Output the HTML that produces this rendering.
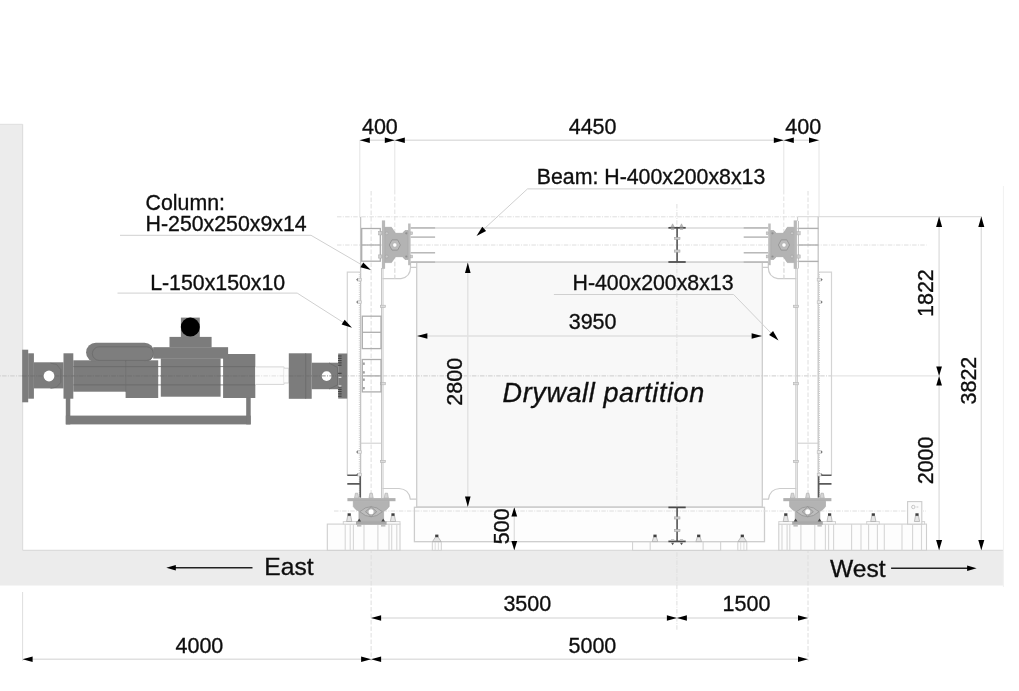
<!DOCTYPE html>
<html><head><meta charset="utf-8"><title>Test setup</title>
<style>
html,body{margin:0;padding:0;background:#fff;}
body{width:1019px;height:691px;overflow:hidden;font-family:"Liberation Sans",sans-serif;}
svg{display:block;}
svg text{font-family:"Liberation Sans",sans-serif;fill:#111;stroke:#111;stroke-width:0.35px;}
</style></head>
<body>
<svg width="1019" height="691" viewBox="0 0 1019 691">
<defs><filter id="soft" x="-2%" y="-2%" width="104%" height="104%"><feGaussianBlur stdDeviation="0.45"/></filter></defs>
<rect width="1019" height="691" fill="#fff"/>
<g filter="url(#soft)">
<path d="M-6 124.3 H22.6 V550.3 H1003 V585.5 H-6 Z" fill="#ececec"/>
<line x1="-6" y1="124.3" x2="22.6" y2="124.3" stroke="#e0e0e0" stroke-width="1" />
<line x1="22.6" y1="124.3" x2="22.6" y2="550.3" stroke="#dedede" stroke-width="1.2" />
<line x1="22.6" y1="550.3" x2="1003" y2="550.3" stroke="#dcdcdc" stroke-width="1.2" />
<line x1="1003.4" y1="186" x2="1003.4" y2="587" stroke="#f1f1f1" stroke-width="1" />
<rect x="416.7" y="262.3" width="345.6" height="244.7" fill="#f8f8f8" stroke="#cdcdcd" stroke-width="1.3" />
<rect x="414.4" y="507.3" width="350.1" height="34.4" fill="#fdfdfd" stroke="#cdcdcd" stroke-width="1.3" />
<line x1="410.6" y1="227.9" x2="768.2" y2="227.9" stroke="#dadada" stroke-width="1.5" />
<line x1="410.6" y1="262.1" x2="768.2" y2="262.1" stroke="#d6d6d6" stroke-width="1.6" />
<line x1="337" y1="216.8" x2="797.6" y2="216.8" stroke="#dedede" stroke-width="1" stroke-dasharray="4.5 1.3 1 1.3"/>
<line x1="797.6" y1="216.6" x2="981.6" y2="216.6" stroke="#dedede" stroke-width="1.1" />
<line x1="337" y1="245" x2="926.5" y2="245" stroke="#dedede" stroke-width="1" stroke-dasharray="4.5 1.3 1 1.3"/>
<line x1="-6" y1="375.9" x2="832" y2="375.9" stroke="#cccccc" stroke-width="1" stroke-dasharray="4.5 1.3 1 1.3"/>
<line x1="832" y1="375.9" x2="939" y2="375.9" stroke="#dedede" stroke-width="1" />
<line x1="334" y1="511" x2="926" y2="511" stroke="#dedede" stroke-width="1" stroke-dasharray="4.5 1.3 1 1.3"/>
<line x1="371.1" y1="191" x2="371.1" y2="661" stroke="#dedede" stroke-width="1" stroke-dasharray="4.5 2"/>
<line x1="808" y1="191" x2="808" y2="661" stroke="#dedede" stroke-width="1" stroke-dasharray="4.5 2"/>
<line x1="676.9" y1="204" x2="676.9" y2="630" stroke="#dedede" stroke-width="1" stroke-dasharray="4.5 1.3 1 1.3"/>
<line x1="394.8" y1="140" x2="394.8" y2="190" stroke="#e4e4e4" stroke-width="1" />
<line x1="394.8" y1="190" x2="394.8" y2="278" stroke="#e2e2e2" stroke-width="1" stroke-dasharray="4.5 2"/>
<line x1="783.8" y1="140" x2="783.8" y2="190" stroke="#e4e4e4" stroke-width="1" />
<line x1="783.8" y1="190" x2="783.8" y2="278" stroke="#e2e2e2" stroke-width="1" stroke-dasharray="4.5 2"/>
<line x1="359.8" y1="140" x2="359.8" y2="216" stroke="#e4e4e4" stroke-width="1" />
<line x1="819" y1="140" x2="819" y2="216" stroke="#e4e4e4" stroke-width="1" />
<line x1="360.6" y1="216.8" x2="360.6" y2="498" stroke="#c4c4c4" stroke-width="1.3" />
<line x1="359.3" y1="272" x2="359.3" y2="498" stroke="#c9c9c9" stroke-width="1" stroke-dasharray="1 1.2"/>
<line x1="381.6" y1="268" x2="381.6" y2="498" stroke="#c6c6c6" stroke-width="1.2" />
<line x1="383.1" y1="268" x2="383.1" y2="498" stroke="#d0d0d0" stroke-width="1.0" />
<path d="M360.5 272.2 H347.3 V475.3" fill="none" stroke="#d4d4d4" stroke-width="1.2" />
<line x1="360.6" y1="443.2" x2="381.6" y2="443.2" stroke="#cccccc" stroke-width="1" />
<path d="M347.3 475.3 H359.5 M347.3 483.9 H360.2 M360.2 476 V497.5" fill="none" stroke="#5a5a5a" stroke-width="1.6" />
<rect x="357.6" y="278.4" width="4.0" height="2.6" fill="#e9e9e9" stroke="#bdbdbd" stroke-width="0.6" />
<polygon points="356.0,279.7 357.8,278.3 357.8,281.1" fill="#777" stroke="none" stroke-width="1"/>
<rect x="357.6" y="300.8" width="4.0" height="2.6" fill="#e9e9e9" stroke="#bdbdbd" stroke-width="0.6" />
<polygon points="356.0,302.1 357.8,300.7 357.8,303.5" fill="#777" stroke="none" stroke-width="1"/>
<rect x="357.6" y="450.7" width="4.0" height="2.6" fill="#e9e9e9" stroke="#bdbdbd" stroke-width="0.6" />
<polygon points="356.0,452 357.8,450.6 357.8,453.4" fill="#777" stroke="none" stroke-width="1"/>
<rect x="357.6" y="473.4" width="4.0" height="2.6" fill="#e9e9e9" stroke="#bdbdbd" stroke-width="0.6" />
<polygon points="356.0,474.7 357.8,473.3 357.8,476.1" fill="#777" stroke="none" stroke-width="1"/>
<rect x="380.3" y="305.2" width="5.0" height="2.4" fill="#dcdcdc" stroke="#b5b5b5" stroke-width="0.6" />
<rect x="380.3" y="382.4" width="5.0" height="2.4" fill="#dcdcdc" stroke="#b5b5b5" stroke-width="0.6" />
<rect x="380.3" y="460.3" width="5.0" height="2.4" fill="#dcdcdc" stroke="#b5b5b5" stroke-width="0.6" />
<path d="M382.5 278.6 H401 Q410.5 277 410.5 267.3 H416.6 M410.5 262.2 V267.3" fill="none" stroke="#cccccc" stroke-width="1.2" />
<path d="M382.5 488.5 H399 Q409 489 410.3 499.2 H416.6" fill="none" stroke="#cccccc" stroke-width="1.2" />
<line x1="394.8" y1="262" x2="394.8" y2="278.6" stroke="#dedede" stroke-width="1" stroke-dasharray="4.5 2"/>
<line x1="818.2" y1="216.8" x2="818.2" y2="498" stroke="#c4c4c4" stroke-width="1.3" />
<line x1="819.5" y1="272" x2="819.5" y2="498" stroke="#c9c9c9" stroke-width="1" stroke-dasharray="1 1.2"/>
<line x1="797.2" y1="268" x2="797.2" y2="498" stroke="#c6c6c6" stroke-width="1.2" />
<line x1="795.7" y1="268" x2="795.7" y2="498" stroke="#d0d0d0" stroke-width="1.0" />
<path d="M818.3 272.2 H831.5 V475.3" fill="none" stroke="#d4d4d4" stroke-width="1.2" />
<line x1="818.2" y1="443.2" x2="797.2" y2="443.2" stroke="#cccccc" stroke-width="1" />
<path d="M831.5 475.3 H819.3 M831.5 483.9 H818.6 M818.6 476 V497.5" fill="none" stroke="#5a5a5a" stroke-width="1.6" />
<rect x="817.2" y="278.4" width="4.0" height="2.6" fill="#e9e9e9" stroke="#bdbdbd" stroke-width="0.6" />
<polygon points="822.8,279.7 821.0,278.3 821.0,281.1" fill="#777" stroke="none" stroke-width="1"/>
<rect x="817.2" y="300.8" width="4.0" height="2.6" fill="#e9e9e9" stroke="#bdbdbd" stroke-width="0.6" />
<polygon points="822.8,302.1 821.0,300.7 821.0,303.5" fill="#777" stroke="none" stroke-width="1"/>
<rect x="817.2" y="450.7" width="4.0" height="2.6" fill="#e9e9e9" stroke="#bdbdbd" stroke-width="0.6" />
<polygon points="822.8,452 821.0,450.6 821.0,453.4" fill="#777" stroke="none" stroke-width="1"/>
<rect x="817.2" y="473.4" width="4.0" height="2.6" fill="#e9e9e9" stroke="#bdbdbd" stroke-width="0.6" />
<polygon points="822.8,474.7 821.0,473.3 821.0,476.1" fill="#777" stroke="none" stroke-width="1"/>
<rect x="793.5" y="305.2" width="5.0" height="2.4" fill="#dcdcdc" stroke="#b5b5b5" stroke-width="0.6" />
<rect x="793.5" y="382.4" width="5.0" height="2.4" fill="#dcdcdc" stroke="#b5b5b5" stroke-width="0.6" />
<rect x="793.5" y="460.3" width="5.0" height="2.4" fill="#dcdcdc" stroke="#b5b5b5" stroke-width="0.6" />
<path d="M796.3 278.6 H777.8 Q768.3 277 768.3 267.3 H762.2 M768.3 262.2 V267.3" fill="none" stroke="#cccccc" stroke-width="1.2" />
<path d="M796.3 488.5 H779.8 Q769.8 489 768.5 499.2 H762.2" fill="none" stroke="#cccccc" stroke-width="1.2" />
<line x1="784.0" y1="262" x2="784.0" y2="278.6" stroke="#dedede" stroke-width="1" stroke-dasharray="4.5 2"/>
<rect x="361.7" y="228.5" width="18.6" height="32.7" fill="none" stroke="#adadad" stroke-width="1.3" />
<line x1="361.7" y1="245" x2="380.3" y2="245" stroke="#adadad" stroke-width="1.3" />
<rect x="362.3" y="316.2" width="18.7" height="32.4" fill="none" stroke="#adadad" stroke-width="1.3" />
<line x1="362.3" y1="332.3" x2="381" y2="332.3" stroke="#adadad" stroke-width="1.3" />
<rect x="362.3" y="359.5" width="18.7" height="32.4" fill="none" stroke="#adadad" stroke-width="1.3" />
<line x1="362.3" y1="375.9" x2="381" y2="375.9" stroke="#adadad" stroke-width="1.3" />
<rect x="362.9" y="362.5" width="1.9" height="2.4" fill="#a0a0a0" stroke="none" stroke-width="1" />
<rect x="362.9" y="371.2" width="1.9" height="2.4" fill="#a0a0a0" stroke="none" stroke-width="1" />
<rect x="362.9" y="378.5" width="1.9" height="2.4" fill="#a0a0a0" stroke="none" stroke-width="1" />
<rect x="362.9" y="387.0" width="1.9" height="2.4" fill="#a0a0a0" stroke="none" stroke-width="1" />
<line x1="797.6" y1="228.4" x2="818.4" y2="228.4" stroke="#b0b0b0" stroke-width="1.4" />
<line x1="797.6" y1="245" x2="818.4" y2="245" stroke="#b0b0b0" stroke-width="1.4" />
<line x1="797.6" y1="261.4" x2="818.4" y2="261.4" stroke="#b0b0b0" stroke-width="1.4" />
<line x1="798.4" y1="221" x2="798.4" y2="268.5" stroke="#bcbcbc" stroke-width="1" />
<line x1="797.6" y1="216.8" x2="797.6" y2="221" stroke="#cccccc" stroke-width="1" />
<rect x="327.3" y="524.1" width="72.7" height="26.2" fill="#fdfdfd" stroke="#cfcfcf" stroke-width="1.1" />
<rect x="343.3" y="521.6" width="56.7" height="2.5" fill="#fdfdfd" stroke="#d2d2d2" stroke-width="1" />
<line x1="345.2" y1="524.1" x2="345.2" y2="550.3" stroke="#d6d6d6" stroke-width="1.1" />
<line x1="350.2" y1="524.1" x2="350.2" y2="550.3" stroke="#d6d6d6" stroke-width="1.1" />
<line x1="353.4" y1="524.1" x2="353.4" y2="550.3" stroke="#d6d6d6" stroke-width="1.1" />
<line x1="364" y1="524.1" x2="364" y2="550.3" stroke="#d6d6d6" stroke-width="1.1" />
<line x1="377.9" y1="524.1" x2="377.9" y2="550.3" stroke="#d6d6d6" stroke-width="1.1" />
<line x1="389" y1="524.1" x2="389" y2="550.3" stroke="#d6d6d6" stroke-width="1.1" />
<line x1="391.7" y1="524.1" x2="391.7" y2="550.3" stroke="#d6d6d6" stroke-width="1.1" />
<line x1="396.8" y1="524.1" x2="396.8" y2="550.3" stroke="#d6d6d6" stroke-width="1.1" />
<rect x="778.8" y="524.1" width="147.7" height="26.2" fill="#fdfdfd" stroke="#cfcfcf" stroke-width="1.1" />
<rect x="778.8" y="521.6" width="56.7" height="2.5" fill="#fdfdfd" stroke="#d2d2d2" stroke-width="1" />
<line x1="833.6" y1="524.1" x2="833.6" y2="550.3" stroke="#d6d6d6" stroke-width="1.1" />
<line x1="828.6" y1="524.1" x2="828.6" y2="550.3" stroke="#d6d6d6" stroke-width="1.1" />
<line x1="825.4" y1="524.1" x2="825.4" y2="550.3" stroke="#d6d6d6" stroke-width="1.1" />
<line x1="814.8" y1="524.1" x2="814.8" y2="550.3" stroke="#d6d6d6" stroke-width="1.1" />
<line x1="800.9" y1="524.1" x2="800.9" y2="550.3" stroke="#d6d6d6" stroke-width="1.1" />
<line x1="789.8" y1="524.1" x2="789.8" y2="550.3" stroke="#d6d6d6" stroke-width="1.1" />
<line x1="787.1" y1="524.1" x2="787.1" y2="550.3" stroke="#d6d6d6" stroke-width="1.1" />
<line x1="782.0" y1="524.1" x2="782.0" y2="550.3" stroke="#d6d6d6" stroke-width="1.1" />
<line x1="851.6" y1="524.1" x2="851.6" y2="550.3" stroke="#d6d6d6" stroke-width="1.1" />
<line x1="861" y1="524.1" x2="861" y2="550.3" stroke="#d6d6d6" stroke-width="1.1" />
<line x1="868.6" y1="524.1" x2="868.6" y2="550.3" stroke="#d6d6d6" stroke-width="1.1" />
<line x1="877.4" y1="524.1" x2="877.4" y2="550.3" stroke="#d6d6d6" stroke-width="1.1" />
<line x1="884.3" y1="524.1" x2="884.3" y2="550.3" stroke="#d6d6d6" stroke-width="1.1" />
<line x1="902" y1="524.1" x2="902" y2="550.3" stroke="#d6d6d6" stroke-width="1.1" />
<line x1="912.6" y1="524.1" x2="912.6" y2="550.3" stroke="#d6d6d6" stroke-width="1.1" />
<line x1="921.5" y1="524.1" x2="921.5" y2="550.3" stroke="#d6d6d6" stroke-width="1.1" />
<rect x="866.7" y="521.6" width="12.6" height="2.5" fill="#fdfdfd" stroke="#d2d2d2" stroke-width="1" />
<rect x="910.8" y="521.6" width="13.8" height="2.5" fill="#fdfdfd" stroke="#d2d2d2" stroke-width="1" />
<rect x="907.6" y="501.6" width="14.2" height="22.5" fill="#fbfbfb" stroke="#cccccc" stroke-width="1.1" />
<circle cx="913.3" cy="507" r="1.7" fill="none" stroke="#b0b0b0" stroke-width="0.7"/>
<line x1="916.5" y1="507" x2="918.3" y2="507" stroke="#bdbdbd" stroke-width="0.8" />
<polygon points="870.7,521.5 871.8,515.7 874.8,515.7 875.9,521.5" fill="#e6e6e6" stroke="#a8a8a8" stroke-width="0.7"/>
<rect x="871.7" y="513.3" width="3.2" height="2.5" fill="#3f3f3f" stroke="none" stroke-width="1" />
<polygon points="914.4,521.5 915.5,515.7 918.5,515.7 919.6,521.5" fill="#e6e6e6" stroke="#a8a8a8" stroke-width="0.7"/>
<rect x="915.4" y="513.3" width="3.2" height="2.5" fill="#3f3f3f" stroke="none" stroke-width="1" />
<line x1="410.6" y1="237.1" x2="435.1" y2="237.1" stroke="#b2b2b2" stroke-width="1.4" />
<line x1="410.6" y1="252.8" x2="435.1" y2="252.8" stroke="#b2b2b2" stroke-width="1.4" />
<line x1="410.6" y1="227.9" x2="435.1" y2="227.9" stroke="#b8b8b8" stroke-width="1.5" />
<line x1="410.6" y1="262.1" x2="435.1" y2="262.1" stroke="#b8b8b8" stroke-width="1.5" />
<rect x="381.9" y="220.4" width="3.2" height="48.4" fill="#b9b9b9" stroke="none" stroke-width="1" />
<rect x="408.1" y="223.5" width="2.5" height="41.7" fill="#bdbdbd" stroke="none" stroke-width="1" />
<polygon points="385.1,227.3 391.5,227.3 395.5,233.3 402.5,233.3 405,230.5 408.1,230.5 408.1,259.5 405,259.5 402.5,256.7 395.5,256.7 391.5,262.6 385.1,262.6" fill="#b3b3b3" stroke="#a2a2a2" stroke-width="0.6"/>
<polygon points="389.2,245 392.0,239.9 397.6,239.9 400.4,245 397.6,250.1 392.0,250.1" fill="#bcbcbc" stroke="#8e8e8e" stroke-width="0.8"/>
<circle cx="394.8" cy="245" r="2.2" fill="#fff" stroke="#a5a5a5" stroke-width="0.6"/>
<circle cx="386.8" cy="233.3" r="1.5" fill="#c9c9c9" stroke="#9c9c9c" stroke-width="0.5"/>
<rect x="378.6" y="231.7" width="3.3" height="3.2" fill="#cfcfcf" stroke="#aaa" stroke-width="0.5" />
<rect x="410.6" y="231.9" width="2.0" height="2.8" fill="#cfcfcf" stroke="#aaa" stroke-width="0.5" />
<circle cx="406.3" cy="233.3" r="1.1" fill="#8f8f8f"/>
<circle cx="386.8" cy="256.5" r="1.5" fill="#c9c9c9" stroke="#9c9c9c" stroke-width="0.5"/>
<rect x="378.6" y="254.9" width="3.3" height="3.2" fill="#cfcfcf" stroke="#aaa" stroke-width="0.5" />
<rect x="410.6" y="255.1" width="2.0" height="2.8" fill="#cfcfcf" stroke="#aaa" stroke-width="0.5" />
<circle cx="406.3" cy="256.5" r="1.1" fill="#8f8f8f"/>
<line x1="768.2" y1="237.1" x2="743.7" y2="237.1" stroke="#b2b2b2" stroke-width="1.4" />
<line x1="768.2" y1="252.8" x2="743.7" y2="252.8" stroke="#b2b2b2" stroke-width="1.4" />
<line x1="768.2" y1="227.9" x2="743.7" y2="227.9" stroke="#b8b8b8" stroke-width="1.5" />
<line x1="768.2" y1="262.1" x2="743.7" y2="262.1" stroke="#b8b8b8" stroke-width="1.5" />
<rect x="793.7" y="220.4" width="3.2" height="48.4" fill="#b9b9b9" stroke="none" stroke-width="1" />
<rect x="768.2" y="223.5" width="2.5" height="41.7" fill="#bdbdbd" stroke="none" stroke-width="1" />
<polygon points="793.7,227.3 787.3,227.3 783.3,233.3 776.3,233.3 773.8,230.5 770.7,230.5 770.7,259.5 773.8,259.5 776.3,256.7 783.3,256.7 787.3,262.6 793.7,262.6" fill="#b3b3b3" stroke="#a2a2a2" stroke-width="0.6"/>
<polygon points="778.4,245 781.2,239.9 786.8,239.9 789.6,245 786.8,250.1 781.2,250.1" fill="#bcbcbc" stroke="#8e8e8e" stroke-width="0.8"/>
<circle cx="784.0" cy="245" r="2.2" fill="#fff" stroke="#a5a5a5" stroke-width="0.6"/>
<circle cx="792.0" cy="233.3" r="1.5" fill="#c9c9c9" stroke="#9c9c9c" stroke-width="0.5"/>
<rect x="796.9" y="231.7" width="3.3" height="3.2" fill="#cfcfcf" stroke="#aaa" stroke-width="0.5" />
<rect x="766.2" y="231.9" width="2.0" height="2.8" fill="#cfcfcf" stroke="#aaa" stroke-width="0.5" />
<circle cx="772.5" cy="233.3" r="1.1" fill="#8f8f8f"/>
<circle cx="792.0" cy="256.5" r="1.5" fill="#c9c9c9" stroke="#9c9c9c" stroke-width="0.5"/>
<rect x="796.9" y="254.9" width="3.3" height="3.2" fill="#cfcfcf" stroke="#aaa" stroke-width="0.5" />
<rect x="766.2" y="255.1" width="2.0" height="2.8" fill="#cfcfcf" stroke="#aaa" stroke-width="0.5" />
<circle cx="772.5" cy="256.5" r="1.1" fill="#8f8f8f"/>
<rect x="347.4" y="498.1" width="48.1" height="3.1" fill="#b1b1b1" stroke="none" stroke-width="1" />
<polygon points="353.3,501.2 389.2,501.2 389.2,506.6 386.6,509.6 383.6,511.2 383.6,521.4 358.9,521.4 358.9,511.2 355.9,509.6 353.3,506.6" fill="#b3b3b3" stroke="#a5a5a5" stroke-width="0.6"/>
<rect x="356.0" y="521.3" width="30.6" height="3.4" fill="#a9a9a9" stroke="none" stroke-width="1" />
<path d="M359.8 511.7 Q371.1 501.5 382.40000000000003 511.7 Q371.1 521.9 359.8 511.7 Z" fill="#bdbdbd" stroke="#939393" stroke-width="0.8" />
<polygon points="365.5,511.7 371.1,506.8 376.7,511.7 371.1,516.6" fill="#b6b6b6" stroke="#8c8c8c" stroke-width="0.7"/>
<circle cx="371.1" cy="511.7" r="2.5" fill="#fff"/>
<polygon points="354.5,498.1 355.4,493.2 357.8,493.2 358.7,498.1" fill="#d5d5d5" stroke="#a9a9a9" stroke-width="0.6"/>
<polygon points="369.0,498.1 369.9,493.2 372.3,493.2 373.2,498.1" fill="#d5d5d5" stroke="#a9a9a9" stroke-width="0.6"/>
<polygon points="384.2,498.1 385.1,493.2 387.5,493.2 388.4,498.1" fill="#d5d5d5" stroke="#a9a9a9" stroke-width="0.6"/>
<polygon points="357.3,521.5 359.2,518.6 361.1,521.5" fill="#444" stroke="none" stroke-width="1"/>
<rect x="357.0" y="525" width="4.4" height="1.6" fill="#bdbdbd" stroke="none" stroke-width="1" />
<polygon points="381.3,521.5 383.2,518.6 385.1,521.5" fill="#444" stroke="none" stroke-width="1"/>
<rect x="381.0" y="525" width="4.4" height="1.6" fill="#bdbdbd" stroke="none" stroke-width="1" />
<polygon points="346.6,521.5 347.7,515.7 350.7,515.7 351.8,521.5" fill="#e6e6e6" stroke="#a8a8a8" stroke-width="0.7"/>
<rect x="347.6" y="513.3" width="3.2" height="2.5" fill="#3f3f3f" stroke="none" stroke-width="1" />
<polygon points="390.4,521.5 391.5,515.7 394.5,515.7 395.6,521.5" fill="#e6e6e6" stroke="#a8a8a8" stroke-width="0.7"/>
<rect x="391.4" y="513.3" width="3.2" height="2.5" fill="#3f3f3f" stroke="none" stroke-width="1" />
<rect x="783.3" y="498.1" width="48.1" height="3.1" fill="#b1b1b1" stroke="none" stroke-width="1" />
<polygon points="825.5,501.2 789.6,501.2 789.6,506.6 792.2,509.6 795.2,511.2 795.2,521.4 819.9,521.4 819.9,511.2 822.9,509.6 825.5,506.6" fill="#b3b3b3" stroke="#a5a5a5" stroke-width="0.6"/>
<rect x="792.2" y="521.3" width="30.6" height="3.4" fill="#a9a9a9" stroke="none" stroke-width="1" />
<path d="M796.4000000000001 511.7 Q807.7 501.5 819.0 511.7 Q807.7 521.9 796.4000000000001 511.7 Z" fill="#bdbdbd" stroke="#939393" stroke-width="0.8" />
<polygon points="802.1,511.7 807.7,506.8 813.3,511.7 807.7,516.6" fill="#b6b6b6" stroke="#8c8c8c" stroke-width="0.7"/>
<circle cx="807.7" cy="511.7" r="2.5" fill="#fff"/>
<polygon points="820.1,498.1 821.0,493.2 823.4,493.2 824.3,498.1" fill="#d5d5d5" stroke="#a9a9a9" stroke-width="0.6"/>
<polygon points="805.6,498.1 806.5,493.2 808.9,493.2 809.8,498.1" fill="#d5d5d5" stroke="#a9a9a9" stroke-width="0.6"/>
<polygon points="790.4,498.1 791.3,493.2 793.7,493.2 794.6,498.1" fill="#d5d5d5" stroke="#a9a9a9" stroke-width="0.6"/>
<polygon points="817.7,521.5 819.6,518.6 821.5,521.5" fill="#444" stroke="none" stroke-width="1"/>
<rect x="817.4" y="525" width="4.4" height="1.6" fill="#bdbdbd" stroke="none" stroke-width="1" />
<polygon points="793.7,521.5 795.6,518.6 797.5,521.5" fill="#444" stroke="none" stroke-width="1"/>
<rect x="793.4" y="525" width="4.4" height="1.6" fill="#bdbdbd" stroke="none" stroke-width="1" />
<polygon points="827.0,521.5 828.1,515.7 831.1,515.7 832.2,521.5" fill="#e6e6e6" stroke="#a8a8a8" stroke-width="0.7"/>
<rect x="828.0" y="513.3" width="3.2" height="2.5" fill="#3f3f3f" stroke="none" stroke-width="1" />
<polygon points="783.2,521.5 784.3,515.7 787.3,515.7 788.4,521.5" fill="#e6e6e6" stroke="#a8a8a8" stroke-width="0.7"/>
<rect x="784.2" y="513.3" width="3.2" height="2.5" fill="#3f3f3f" stroke="none" stroke-width="1" />
<rect x="632.6" y="541.9" width="88.1" height="8.4" fill="#fdfdfd" stroke="#cfcfcf" stroke-width="1" />
<line x1="650.2" y1="541.9" x2="650.2" y2="550.3" stroke="#cfcfcf" stroke-width="1" />
<line x1="703.1" y1="541.9" x2="703.1" y2="550.3" stroke="#cfcfcf" stroke-width="1" />
<rect x="432.3" y="541.9" width="9.0" height="8.4" fill="#fdfdfd" stroke="#d0d0d0" stroke-width="1" />
<line x1="435.2" y1="541.9" x2="435.2" y2="550.3" stroke="#d6d6d6" stroke-width="0.8" />
<line x1="438.40000000000003" y1="541.9" x2="438.40000000000003" y2="550.3" stroke="#d6d6d6" stroke-width="0.8" />
<rect x="737.8" y="541.9" width="9.0" height="8.4" fill="#fdfdfd" stroke="#d0d0d0" stroke-width="1" />
<line x1="740.6999999999999" y1="541.9" x2="740.6999999999999" y2="550.3" stroke="#d6d6d6" stroke-width="0.8" />
<line x1="743.9" y1="541.9" x2="743.9" y2="550.3" stroke="#d6d6d6" stroke-width="0.8" />
<polygon points="432.5,541.6 435.5,537.0 438.1,537.0 441.1,541.6" fill="#e6e6e6" stroke="#a8a8a8" stroke-width="0.7"/>
<rect x="435.2" y="534.6" width="3.2" height="2.5" fill="#3f3f3f" stroke="none" stroke-width="1" />
<polygon points="738.0,541.6 741.0,537.0 743.6,537.0 746.6,541.6" fill="#e6e6e6" stroke="#a8a8a8" stroke-width="0.7"/>
<rect x="740.7" y="534.6" width="3.2" height="2.5" fill="#3f3f3f" stroke="none" stroke-width="1" />
<polygon points="652.2,541.6 653.6,537.0 656.4,537.0 657.8,541.6" fill="#e6e6e6" stroke="#a8a8a8" stroke-width="0.7"/>
<rect x="653.4" y="534.6" width="3.2" height="2.5" fill="#3f3f3f" stroke="none" stroke-width="1" />
<polygon points="695.9,541.6 697.3,537.0 700.1,537.0 701.5,541.6" fill="#e6e6e6" stroke="#a8a8a8" stroke-width="0.7"/>
<rect x="697.1" y="534.6" width="3.2" height="2.5" fill="#3f3f3f" stroke="none" stroke-width="1" />
<line x1="668.4" y1="227.8" x2="685.7" y2="227.8" stroke="#4a4a4a" stroke-width="1.7" />
<line x1="668.4" y1="262.0" x2="685.7" y2="262.0" stroke="#4a4a4a" stroke-width="1.7" />
<line x1="677.1" y1="227.8" x2="677.1" y2="262.0" stroke="#555" stroke-width="1.6" />
<rect x="674.3" y="237.3" width="5.7" height="2.2" fill="#d0d0d0" stroke="#9e9e9e" stroke-width="0.5" />
<rect x="674.3" y="249.96" width="5.7" height="2.2" fill="#d0d0d0" stroke="#9e9e9e" stroke-width="0.5" />
<polygon points="670.9,227.2 672.6,223.8 674.3,227.2" fill="#bbb" stroke="#999" stroke-width="0.5"/>
<rect x="671.0" y="228.6" width="3.2" height="1.4" fill="#c4c4c4" stroke="none" stroke-width="1" />
<polygon points="679.8,227.2 681.5,223.8 683.2,227.2" fill="#bbb" stroke="#999" stroke-width="0.5"/>
<rect x="679.9" y="228.6" width="3.2" height="1.4" fill="#c4c4c4" stroke="none" stroke-width="1" />
<line x1="668.4" y1="507.4" x2="685.7" y2="507.4" stroke="#4a4a4a" stroke-width="1.7" />
<line x1="668.4" y1="541.4" x2="685.7" y2="541.4" stroke="#4a4a4a" stroke-width="1.7" />
<line x1="677.1" y1="507.4" x2="677.1" y2="541.4" stroke="#555" stroke-width="1.6" />
<rect x="674.3" y="516.84" width="5.7" height="2.2" fill="#d0d0d0" stroke="#9e9e9e" stroke-width="0.5" />
<rect x="674.3" y="529.42" width="5.7" height="2.2" fill="#d0d0d0" stroke="#9e9e9e" stroke-width="0.5" />
<polygon points="671.1,542.7 674.1,542.7 672.6,545.2" fill="#555" stroke="none" stroke-width="1"/>
<rect x="671.0" y="539.0" width="3.2" height="1.5" fill="#c4c4c4" stroke="none" stroke-width="1" />
<polygon points="680.0,542.7 683.0,542.7 681.5,545.2" fill="#555" stroke="none" stroke-width="1"/>
<rect x="679.9" y="539.0" width="3.2" height="1.5" fill="#c4c4c4" stroke="none" stroke-width="1" />
<rect x="22.2" y="349.7" width="6.0" height="52.6" fill="#7b7b7b" stroke="none" stroke-width="1" />
<rect x="28.2" y="353.3" width="5.7" height="45.4" fill="#7b7b7b" stroke="none" stroke-width="1" />
<rect x="33.9" y="362.3" width="29.6" height="26.1" fill="#7b7b7b" stroke="none" stroke-width="1" />
<rect x="63.5" y="353.3" width="9.8" height="45.4" fill="#7b7b7b" stroke="none" stroke-width="1" />
<rect x="73.3" y="360.3" width="52.5" height="31.4" fill="#7b7b7b" stroke="none" stroke-width="1" />
<rect x="125.6" y="360.3" width="32.6" height="37.7" fill="#7b7b7b" stroke="none" stroke-width="1" />
<rect x="160.8" y="358.3" width="59.8" height="38.4" fill="#7b7b7b" stroke="none" stroke-width="1" />
<rect x="223.1" y="354" width="32.2" height="44" fill="#7b7b7b" stroke="none" stroke-width="1" />
<rect x="86.1" y="342.7" width="68" height="19.4" rx="9.7" fill="#7b7b7b"/>
<rect x="92.4" y="346.8" width="61" height="13.6" rx="6.8" fill="#7e7e7e" stroke="#6a6a6a" stroke-width="0.8"/>
<rect x="153.2" y="347.2" width="74.9" height="11.4" fill="#7b7b7b" stroke="none" stroke-width="1" />
<rect x="169.5" y="336.9" width="42.1" height="10.5" fill="#7b7b7b" stroke="none" stroke-width="1" />
<rect x="180.9" y="317.6" width="18.9" height="19.4" fill="#808080" stroke="none" stroke-width="1" />
<circle cx="190.3" cy="327.1" r="9.5" fill="#000"/>
<rect x="65.8" y="398" width="4.5" height="26.4" fill="#7b7b7b" stroke="none" stroke-width="1" />
<rect x="65.8" y="415.6" width="184.9" height="8.8" fill="#7b7b7b" stroke="none" stroke-width="1" />
<rect x="246.2" y="397.5" width="4.5" height="26.9" fill="#7b7b7b" stroke="none" stroke-width="1" />
<line x1="73.3" y1="366.6" x2="255.3" y2="366.6" stroke="#686868" stroke-width="0.8" />
<line x1="73.3" y1="384.9" x2="255.3" y2="384.9" stroke="#686868" stroke-width="0.8" />
<line x1="22.2" y1="375.9" x2="255.3" y2="375.9" stroke="#6e6e6e" stroke-width="0.8" stroke-dasharray="4.5 1.3 1 1.3"/>
<line x1="125.6" y1="360.3" x2="125.6" y2="391.7" stroke="#6c6c6c" stroke-width="0.7" />
<path d="M50.5 363.2 L56.5 364.4 L60.8 369.6 V382.4 L56.5 387.2 L50.5 388.3" fill="none" stroke="#6c6c6c" stroke-width="0.8" />
<circle cx="49.0" cy="376.0" r="5.4" fill="#fff"/>
<path d="M255.3 366.9 H284.1 V384.4 H255.3" fill="#fcfcfc" stroke="#d6d6d6" stroke-width="1" />
<path d="M284.1 368.2 H288.8 V383 H284.1" fill="#fcfcfc" stroke="#d6d6d6" stroke-width="1" />
<rect x="288.8" y="353.3" width="22.9" height="45.5" fill="#7b7b7b" stroke="none" stroke-width="1" />
<line x1="305.7" y1="353.3" x2="305.7" y2="398.8" stroke="#6a6a6a" stroke-width="0.8" />
<rect x="311.7" y="362.7" width="26.5" height="26.5" fill="#7b7b7b" stroke="none" stroke-width="1" />
<path d="M329 362.9 L337.5 367.5 V385 L329 389" fill="none" stroke="#6a6a6a" stroke-width="0.8" />
<circle cx="326.6" cy="376.1" r="4.9" fill="#fff"/>
<rect x="338.2" y="353.5" width="9.0" height="45.1" fill="#7b7b7b" stroke="none" stroke-width="1" />
<line x1="338.0" y1="356" x2="341.6" y2="356" stroke="#3d3d3d" stroke-width="1" />
<line x1="338.0" y1="358.3" x2="341.6" y2="358.3" stroke="#3d3d3d" stroke-width="1" />
<line x1="338.0" y1="360.6" x2="341.6" y2="360.6" stroke="#3d3d3d" stroke-width="1" />
<line x1="338.0" y1="362.9" x2="341.6" y2="362.9" stroke="#3d3d3d" stroke-width="1" />
<line x1="338.0" y1="365.2" x2="341.6" y2="365.2" stroke="#3d3d3d" stroke-width="1" />
<line x1="338.0" y1="373.3" x2="341.6" y2="373.3" stroke="#3d3d3d" stroke-width="1" />
<line x1="338.0" y1="387" x2="341.6" y2="387" stroke="#3d3d3d" stroke-width="1" />
<line x1="338.0" y1="389.3" x2="341.6" y2="389.3" stroke="#3d3d3d" stroke-width="1" />
<line x1="338.0" y1="391.6" x2="341.6" y2="391.6" stroke="#3d3d3d" stroke-width="1" />
<line x1="338.0" y1="393.9" x2="341.6" y2="393.9" stroke="#3d3d3d" stroke-width="1" />
<line x1="338.0" y1="396.2" x2="341.6" y2="396.2" stroke="#3d3d3d" stroke-width="1" />
<line x1="338.6" y1="377.2" x2="341.4" y2="377.2" stroke="#efefef" stroke-width="1.2" />
<line x1="338.6" y1="386.0" x2="341.4" y2="386.0" stroke="#efefef" stroke-width="1.2" />
<line x1="255.3" y1="375.9" x2="288.8" y2="375.9" stroke="#dddddd" stroke-width="0.9" stroke-dasharray="4.5 1.3 1 1.3"/>
<line x1="288.8" y1="375.9" x2="347" y2="375.9" stroke="#6e6e6e" stroke-width="0.8" stroke-dasharray="4.5 1.3 1 1.3"/>
<line x1="359.8" y1="140.3" x2="819" y2="140.3" stroke="#e0e0e0" stroke-width="1.4" />
<polygon points="359.8,140.3 369.8,137.5 369.8,143.1" fill="#000" stroke="none" stroke-width="1"/>
<polygon points="394.8,140.3 384.8,143.1 384.8,137.5" fill="#000" stroke="none" stroke-width="1"/>
<polygon points="394.8,140.3 404.8,137.5 404.8,143.1" fill="#000" stroke="none" stroke-width="1"/>
<polygon points="783.8,140.3 773.8,143.1 773.8,137.5" fill="#000" stroke="none" stroke-width="1"/>
<polygon points="783.8,140.3 793.8,137.5 793.8,143.1" fill="#000" stroke="none" stroke-width="1"/>
<polygon points="819,140.3 809.0,143.1 809.0,137.5" fill="#000" stroke="none" stroke-width="1"/>
<text x="379.9" y="133.8" font-size="21.5" text-anchor="middle" >400</text>
<text x="592.6" y="134.2" font-size="21.5" text-anchor="middle" >4450</text>
<text x="803.3" y="133.8" font-size="21.5" text-anchor="middle" >400</text>
<line x1="22.6" y1="592" x2="22.6" y2="661" stroke="#dedede" stroke-width="1" />
<line x1="371.1" y1="618" x2="808" y2="618" stroke="#e0e0e0" stroke-width="1.4" />
<polygon points="371.1,618 381.1,615.2 381.1,620.8" fill="#000" stroke="none" stroke-width="1"/>
<polygon points="676.9,618 666.9,620.8 666.9,615.2" fill="#000" stroke="none" stroke-width="1"/>
<polygon points="676.9,618 686.9,615.2 686.9,620.8" fill="#000" stroke="none" stroke-width="1"/>
<polygon points="808,618 798.0,620.8 798.0,615.2" fill="#000" stroke="none" stroke-width="1"/>
<line x1="22.6" y1="659.3" x2="808" y2="659.3" stroke="#e0e0e0" stroke-width="1.4" />
<polygon points="22.6,659.3 32.6,656.5 32.6,662.1" fill="#000" stroke="none" stroke-width="1"/>
<polygon points="371.1,659.3 361.1,662.1 361.1,656.5" fill="#000" stroke="none" stroke-width="1"/>
<polygon points="371.1,659.3 381.1,656.5 381.1,662.1" fill="#000" stroke="none" stroke-width="1"/>
<polygon points="808,659.3 798.0,662.1 798.0,656.5" fill="#000" stroke="none" stroke-width="1"/>
<text x="527.3" y="611.4" font-size="21.5" text-anchor="middle" >3500</text>
<text x="746.5" y="611.4" font-size="21.5" text-anchor="middle" >1500</text>
<text x="199.4" y="653.1" font-size="21.5" text-anchor="middle" >4000</text>
<text x="592.4" y="652.9" font-size="21.5" text-anchor="middle" >5000</text>
<line x1="939.1" y1="216.6" x2="939.1" y2="550.3" stroke="#e0e0e0" stroke-width="1.4" />
<line x1="981.3" y1="216.6" x2="981.3" y2="550.3" stroke="#e0e0e0" stroke-width="1.4" />
<polygon points="939.1,216.6 942.1,227.0 936.1,227.0" fill="#000" stroke="none" stroke-width="1"/>
<polygon points="981.3,216.6 984.3,227.0 978.3,227.0" fill="#000" stroke="none" stroke-width="1"/>
<polygon points="939.1,375.9 936.25,366.4 941.95,366.4" fill="#000" stroke="none" stroke-width="1"/>
<polygon points="939.1,375.9 941.95,385.4 936.25,385.4" fill="#000" stroke="none" stroke-width="1"/>
<polygon points="939.1,550.3 936.1,539.9 942.1,539.9" fill="#000" stroke="none" stroke-width="1"/>
<polygon points="981.3,550.3 978.3,539.9 984.3,539.9" fill="#000" stroke="none" stroke-width="1"/>
<text x="933.4" y="293.1" font-size="21.5" text-anchor="middle" transform="rotate(-90 933.4 293.1)" >1822</text>
<text x="933.4" y="460.4" font-size="21.5" text-anchor="middle" transform="rotate(-90 933.4 460.4)" >2000</text>
<text x="976.0" y="380.6" font-size="21.5" text-anchor="middle" transform="rotate(-90 976.0 380.6)" >3822</text>
<line x1="417" y1="336" x2="762" y2="336" stroke="#e1e1e1" stroke-width="1.4" />
<polygon points="417,336 427.4,333.35 427.4,338.65" fill="#000" stroke="none" stroke-width="1"/>
<polygon points="762,336 751.6,338.65 751.6,333.35" fill="#000" stroke="none" stroke-width="1"/>
<text x="592.6" y="328.9" font-size="21.5" text-anchor="middle" >3950</text>
<line x1="467.8" y1="262.5" x2="467.8" y2="507" stroke="#e1e1e1" stroke-width="1.4" />
<polygon points="467.8,262.5 470.6,272.9 465.0,272.9" fill="#000" stroke="none" stroke-width="1"/>
<polygon points="467.8,507 465.0,496.6 470.6,496.6" fill="#000" stroke="none" stroke-width="1"/>
<text x="461.6" y="381.7" font-size="21.5" text-anchor="middle" transform="rotate(-90 461.6 381.7)" >2800</text>
<line x1="514.3" y1="507.3" x2="514.3" y2="550.3" stroke="#e1e1e1" stroke-width="1.4" />
<polygon points="514.3,507.3 517.2,516.6 511.4,516.6" fill="#000" stroke="none" stroke-width="1"/>
<polygon points="514.3,550.3 511.4,541.0 517.2,541.0" fill="#000" stroke="none" stroke-width="1"/>
<text x="508.9" y="526.3" font-size="21.5" text-anchor="middle" transform="rotate(-90 508.9 526.3)" >500</text>
<path d="M120 235.3 H311 L362 265" fill="none" stroke="#d0d0d0" stroke-width="1" />
<polygon points="370.9,270.1 360.42,267.22 363.25,262.39" fill="#000" stroke="none" stroke-width="1"/>
<path d="M117.5 293.1 H297.2 L343.5 322.6" fill="none" stroke="#d0d0d0" stroke-width="1" />
<polygon points="352,327.8 341.64,324.53 344.64,319.81" fill="#000" stroke="none" stroke-width="1"/>
<path d="M742.4 188.9 H527.5 L484 229" fill="none" stroke="#d0d0d0" stroke-width="1" />
<polygon points="476.5,236 482.27,226.79 486.09,230.88" fill="#000" stroke="none" stroke-width="1"/>
<path d="M553.9 294.5 H733.6 L771 333" fill="none" stroke="#d0d0d0" stroke-width="1" />
<polygon points="778.5,340.5 769.1,335.06 773.06,331.1" fill="#000" stroke="none" stroke-width="1"/>
<text x="145.6" y="210.0" font-size="21.3" text-anchor="start" >Column:</text>
<text x="145.6" y="230.7" font-size="21.3" text-anchor="start" >H-250x250x9x14</text>
<text x="150.2" y="289.7" font-size="21.3" text-anchor="start" >L-150x150x10</text>
<text x="536.8" y="184.2" font-size="21.3" text-anchor="start" >Beam: H-400x200x8x13</text>
<text x="572.5" y="289.8" font-size="21.3" text-anchor="start" >H-400x200x8x13</text>
<text x="502.6" y="401.5" font-size="27" text-anchor="start" font-style="italic" letter-spacing="0.6">Drywall partition</text>
<text x="264.3" y="574.7" font-size="24.6" text-anchor="start" >East</text>
<text x="830" y="576.9" font-size="24.6" text-anchor="start" >West</text>
<line x1="170" y1="567.7" x2="252.5" y2="567.7" stroke="#222" stroke-width="1.4" />
<polygon points="166.3,567.7 175.8,564.9 175.8,570.5" fill="#000" stroke="none" stroke-width="1"/>
<line x1="891.1" y1="568.3" x2="972" y2="568.3" stroke="#222" stroke-width="1.4" />
<polygon points="976.6,568.3 967.1,571.1 967.1,565.5" fill="#000" stroke="none" stroke-width="1"/>
</g>
</svg>
</body></html>
